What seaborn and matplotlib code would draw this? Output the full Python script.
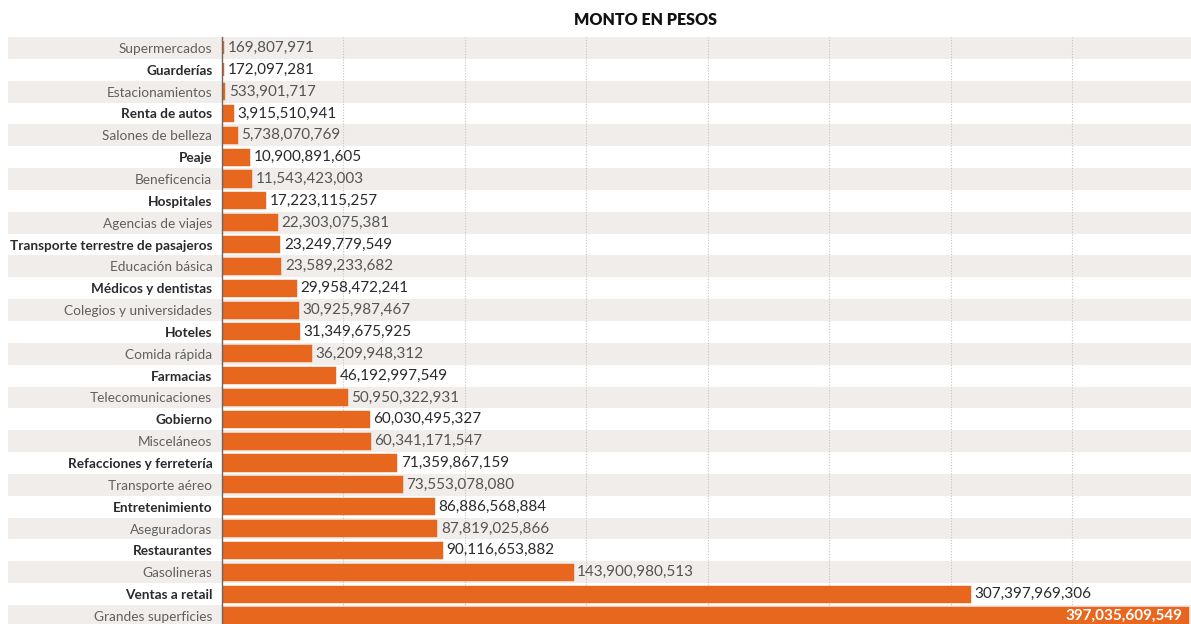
import matplotlib
matplotlib.use('Agg')
import matplotlib.pyplot as plt
import seaborn as sns
import pandas as pd

# datos: monto en pesos por giro comercial
categorias = [
    'Supermercados', 'Guarderías', 'Estacionamientos', 'Renta de autos',
    'Salones de belleza', 'Peaje', 'Beneficencia', 'Hospitales',
    'Agencias de viajes', 'Transporte terrestre de pasajeros', 'Educación básica',
    'Médicos y dentistas', 'Colegios y universidades', 'Hoteles', 'Comida rápida',
    'Farmacias', 'Telecomunicaciones', 'Gobierno', 'Misceláneos',
    'Refacciones y ferretería', 'Transporte aéreo', 'Entretenimiento',
    'Aseguradoras', 'Restaurantes', 'Gasolineras', 'Ventas a retail',
    'Grandes superficies',
]
montos = [
    169807971, 172097281, 533901717, 3915510941,
    5738070769, 10900891605, 11543423003, 17223115257,
    22303075381, 23249779549, 23589233682,
    29958472241, 30925987467, 31349675925, 36209948312,
    46192997549, 50950322931, 60030495327, 60341171547,
    71359867159, 73553078080, 86886568884,
    87819025866, 90116653882, 143900980513, 307397969306,
    397035609549,
]
titulo = 'MONTO EN PESOS'

NARANJA = '#E8671E'
BANDA = '#F1EDEA'

sns.set_style('white')
plt.rcParams['font.family'] = ['Lato', 'DejaVu Sans']

df = pd.DataFrame({'categoria': categorias, 'monto': montos})

fig = plt.figure(figsize=(11.91, 6.24), dpi=100)
ax = fig.add_axes([222 / 1191, 0, 969 / 1191, 587 / 624])
ax.set_facecolor('none')

sns.barplot(data=df, x='monto', y='categoria', orient='h', color=NARANJA,
            saturation=1, width=0.6, edgecolor=NARANJA, linewidth=3.2, ax=ax)

n = len(categorias)
ax.set_xlim(0, 398.8e9)
ax.set_ylim(n - 1 + 0.37, -0.5)

# bandas alternadas sobre todo el ancho
for i in range(0, n, 2):
    ax.axhspan(i - 0.5, i + 0.5, xmin=-214 / 969, xmax=1, color=BANDA,
               clip_on=False, zorder=-2, lw=0)

ax.set_xticks([50e9 * k for k in range(1, 8)])
ax.xaxis.grid(True, linestyle=(0, (1, 1.5)), color='#c4c4c4', lw=0.8)
ax.set_axisbelow(True)
ax.tick_params(axis='x', length=0, labelbottom=False)
ax.tick_params(axis='y', length=0, pad=7)
ax.set_xlabel('')
ax.set_ylabel('')
for s in ['top', 'right', 'bottom']:
    ax.spines[s].set_visible(False)
ax.spines['left'].set_color('#666666')
ax.spines['left'].set_linewidth(1.0)

for i, lab in enumerate(ax.get_yticklabels()):
    lab.set_fontsize(9.8)
    if i % 2:
        lab.set_fontweight('bold')
        lab.set_color('#2a2a2a')
    else:
        lab.set_color('#606060')

# etiquetas de valor
for i, v in enumerate(montos):
    txt = f'{v:,}'
    if i == n - 1:
        ax.annotate(txt, (v, i), xytext=(-3, 0), textcoords='offset points',
                    ha='right', va='center', fontsize=11, color='white',
                    fontweight='bold')
    else:
        ax.annotate(txt, (v, i), xytext=(4, 0), textcoords='offset points',
                    ha='left', va='center', fontsize=11,
                    color='#2a2a2a' if i % 2 else '#555555')

fig.text(645 / 1191, 1 - 20 / 624, titulo, ha='center', va='center',
         fontsize=11.5, fontweight='heavy', color='#111111')

fig.savefig('out.png', dpi=100)
